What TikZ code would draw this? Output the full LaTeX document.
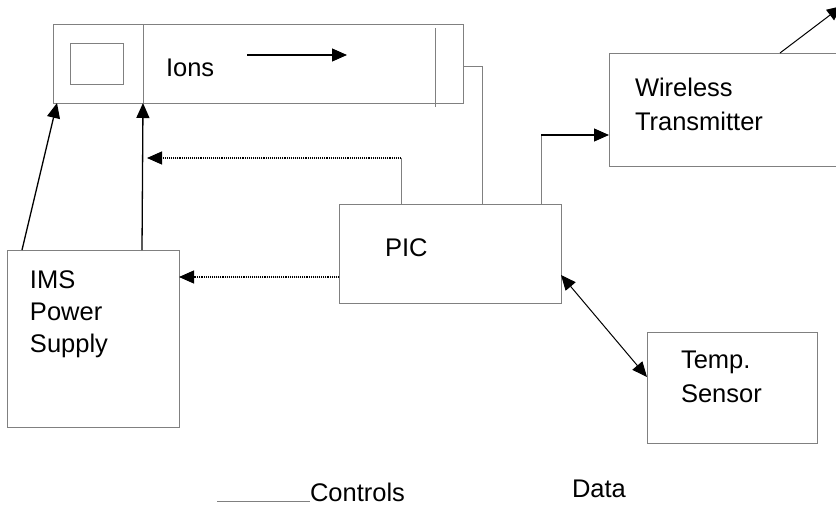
\documentclass[tikz,border=0pt]{standalone}
\usepackage{fontspec}
\setmainfont{Liberation Sans}
\usetikzlibrary{arrows.meta,calc}
\definecolor{boxgray}{RGB}{128,128,128}
\tikzset{
  box/.style={draw=boxgray, line width=1pt, rectangle, inner sep=0pt, outer sep=0pt},
  lbl/.style={anchor=base west, inner sep=0pt, outer sep=0pt, font=\fontsize{25.5}{30}\selectfont},
  arr/.style={-{Triangle[length=15pt,width=13pt]}, line width=1.1pt, black},
  dblarr/.style={{Triangle[length=15pt,width=13pt]}-{Triangle[length=15pt,width=13pt]}, line width=1pt, black},
  dotarr/.style={-{Triangle[length=15pt,width=13pt]}, line width=1.1pt, black, densely dotted},
  grayline/.style={draw=boxgray, line width=1pt},
}
\begin{document}
\begin{tikzpicture}[x=1pt,y=-1pt]
\useasboundingbox (0,0) rectangle (836,504);
% boxes
\node[box, minimum width=410pt, minimum height=79pt] (cell) at (258,63.5) {};
\node[box, minimum width=53pt, minimum height=41pt] (src) at (96.5,63.5) {};
\coordinate (divtop) at (143,24);
\coordinate (divbot) at (143,103);
\draw[grayline] (divtop) -- (divbot);
\coordinate (dettop) at (435,28);
\coordinate (detbot) at (435,107);
\draw[grayline] (dettop) -- (detbot);
\node[box, minimum width=222pt, minimum height=99pt] (pic) at (450,253.5) {};
\node[box, minimum width=172pt, minimum height=177pt] (ims) at (93,338.5) {};
\node[box, minimum width=236pt, minimum height=113pt] (wt) at (727,109.5) {};
\node[box, minimum width=170pt, minimum height=111pt] (temp) at (732,387.5) {};
% texts
\node[lbl] (tions) at (166,76) {Ions};
\node[lbl] (tpic) at (385,256) {PIC};
\node[lbl] (tims1) at (30,288) {IMS};
\node[lbl] (tims2) at (30,320) {Power};
\node[lbl] (tims3) at (30,352) {Supply};
\node[lbl] (twt1) at (635,96) {Wireless};
\node[lbl] (twt2) at (635,130) {Transmitter};
\node[lbl] (tt1) at (681,368) {Temp.};
\node[lbl] (tt2) at (681,402) {Sensor};
\node[lbl] (tctl) at (310,501) {Controls};
\node[lbl] (tdata) at (572,497) {Data};
% ion arrow
\coordinate (ia) at (247,55);
\coordinate (ib) at (347,55);
\draw[arr] (ia) -- (ib);
% IMS to cell
\draw[arr, line width=1.3pt] ($(ims.north west)+(15,0)$) -- ($(cell.south west)+(4,0)$);
\draw[arr, line width=1.3pt] ($(ims.north west)+(135,0)$) -- ($(cell.south west)+(90,0)$);
% dotted controls
\coordinate (d1) at (401,158);
\coordinate (d1e) at (147,158);
\draw[grayline] ($(pic.north west)+(62,0)$) -- (d1);
\draw[dotarr] (d1) -- (d1e);
\draw[dotarr] ($(pic.north west)+(0,73)$) -- ($(ims.north east)+(0,27)$);
% cell to PIC
\coordinate (c1) at (482,66);
\draw[grayline] ($(cell.north east)+(0,42)$) -- (c1) -- ($(pic.north west)+(143,0)$);
% PIC to WT
\coordinate (w1) at (541,135);
\draw[grayline] ($(pic.north west)+(202,0)$) -- (w1);
\draw[arr] (w1) -- (wt.west |- w1);
% WT antenna
\coordinate (ant) at (842,6);
\draw[arr, line width=1pt] ($(wt.north west)+(171,0)$) -- (ant);
% PIC <-> Temp
\draw[dblarr] ($(pic.south east)+(0,-28)$) -- ($(temp.north west)+(0,45)$);
% legend
\coordinate (l1) at (217,501);
\draw[grayline] (l1) -- (tctl.base west);
\end{tikzpicture}
\end{document}
